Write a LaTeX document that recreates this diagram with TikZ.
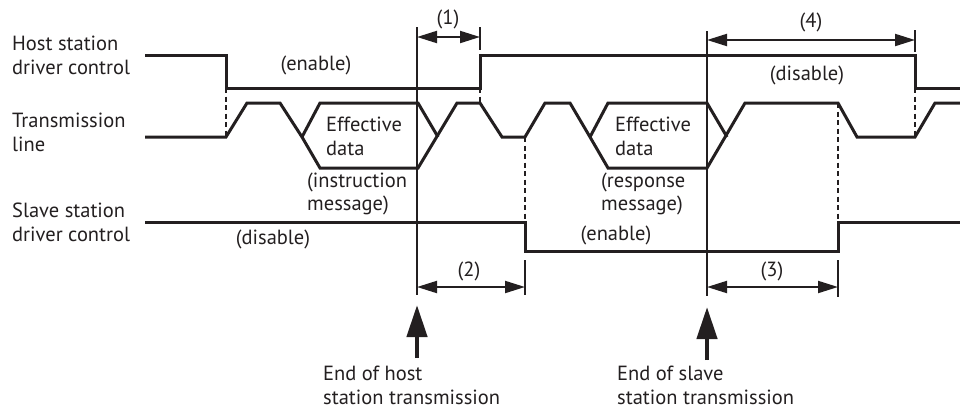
\documentclass[tikz,border=0pt]{standalone}
\usepackage{fontspec}
\setmainfont{PT Sans}
\usetikzlibrary{arrows.meta}
\definecolor{ink}{RGB}{35,31,32}
\tikzset{
  sig/.style={line width=3pt, draw=ink, line join=miter},
  vline/.style={line width=1.7pt, draw=ink},
  dashln/.style={line width=2.2pt, draw=ink, dash pattern=on 5pt off 3.5pt},
  dimarr/.style={line width=2pt, draw=ink, {Triangle[length=20pt,width=12pt]}-{Triangle[length=20pt,width=12pt]}},
  bigarr/.style={line width=4.5pt, draw=ink, fill=ink, -{Triangle[length=32pt,width=20pt]}},
  lbl/.style={text=ink, inner sep=0pt, font=\fontsize{20.5}{23.5}\selectfont, align=left},
}
\begin{document}
\begin{tikzpicture}[x=1pt,y=-1pt]
\useasboundingbox (0,0) rectangle (960,410);
% key coordinates
\coordinate (hostEndTop) at (417,27);
\coordinate (hostEndBot) at (417,295);
\coordinate (slvEndTop) at (707,31);
\coordinate (slvEndBot) at (707,296);
% row labels
\node[lbl, anchor=west] (lhost) at (12,55.5) {Host station\\driver control};
\node[lbl, anchor=west] (ltrans) at (12,132.5) {Transmission\\line};
\node[lbl, anchor=west] (lslave) at (12,222.5) {Slave station\\driver control};
% host driver control
\draw[sig] (145,55) -- (226,55) coordinate (h1) -- (226,88) coordinate (h2) -- (480,88) coordinate (h3)
  -- (480,55) coordinate (h4) -- (915,55) coordinate (h5) -- (915,88) coordinate (h6) -- (960,88);
% transmission line
\draw[sig] (145,137) -- (226,137) coordinate (t1) -- (247,103) -- (280,103) -- (302,137) coordinate (eyeL1)
  -- (320,168) -- (418,168) -- (457,103) -- (480,103) coordinate (t2) -- (502,137) -- (525,137) coordinate (t3)
  -- (545,103) -- (570,103) -- (590,137) coordinate (eyeL2) -- (608,168) -- (707,168) -- (745,103)
  -- (838,103) coordinate (t4) -- (857,137) -- (915,137) coordinate (t5) -- (935,103) -- (960,103);
\draw[sig] (eyeL1) -- (320,103) -- (418,103) -- (438,137);
\draw[sig] (eyeL2) -- (608,103) -- (707,103) -- (727,137);
% slave driver control
\draw[sig] (145,222) -- (525,222) coordinate (s1) -- (525,251) -- (838,251) -- (838,222) coordinate (s2) -- (960,222);
% dashed links
\draw[dashln] (h2) -- (t1);
\draw[dashln] (h3) -- (t2);
\draw[dashln] (t3) -- (s1);
\draw[dashln] (t4) -- (s2);
\draw[dashln] (h6) -- (t5);
% marker lines
\draw[vline] (hostEndTop) -- (hostEndBot);
\draw[vline] (slvEndTop) -- (slvEndBot);
\draw[vline] (480,27) coordinate (k1t) -- (480,50) coordinate (k1b);
\draw[vline] (915,30) coordinate (k4t) -- (915,52) coordinate (k4b);
\draw[vline] (525,260) coordinate (k2t) -- (525,295) coordinate (k2b);
\draw[vline] (838,260) coordinate (k3t) -- (838,297) coordinate (k3b);
% dimension arrows
\coordinate (d1a) at (417,37); \coordinate (d1b) at (480,37);
\coordinate (d4a) at (707,40); \coordinate (d4b) at (915,40);
\coordinate (d2a) at (417,287); \coordinate (d2b) at (525,287);
\coordinate (d3a) at (707,287); \coordinate (d3b) at (838,287);
\draw[dimarr] (d1a) -- (d1b);
\draw[dimarr] (d4a) -- (d4b);
\draw[dimarr] (d2a) -- (d2b);
\draw[dimarr] (d3a) -- (d3b);
\node[lbl] (n1) at (448,19) {(1)};
\node[lbl] (n4) at (811,22) {(4)};
\node[lbl] (n2) at (469,271) {(2)};
\node[lbl] (n3) at (772,271) {(3)};
% state labels
\node[lbl] (henable) at (316,65) {(enable)};
\node[lbl] (hdisable) at (807,75) {(disable)};
\node[lbl] (sdisable) at (273,239) {(disable)};
\node[lbl] (senable) at (616,235) {(enable)};
% data labels
\node[lbl, anchor=west] (eff1) at (326,136.5) {Effective\\data};
\node[lbl, anchor=west] (eff2) at (615,136.5) {Effective\\data};
\node[lbl, anchor=west] (instr) at (307,194) {(instruction\\message)};
\node[lbl, anchor=west] (resp) at (601,194) {(response\\message)};
% event arrows
\coordinate (a1t) at (417,305); \coordinate (a1b) at (417,358);
\coordinate (a2t) at (707,307); \coordinate (a2b) at (707,360);
\draw[bigarr] (a1b) -- (a1t);
\draw[bigarr] (a2b) -- (a2t);
\node[lbl, anchor=west] (endhost) at (323,385.5) {End of host\\station transmission};
\node[lbl, anchor=west] (endslave) at (617,385.5) {End of slave\\station transmission};
\end{tikzpicture}
\end{document}
